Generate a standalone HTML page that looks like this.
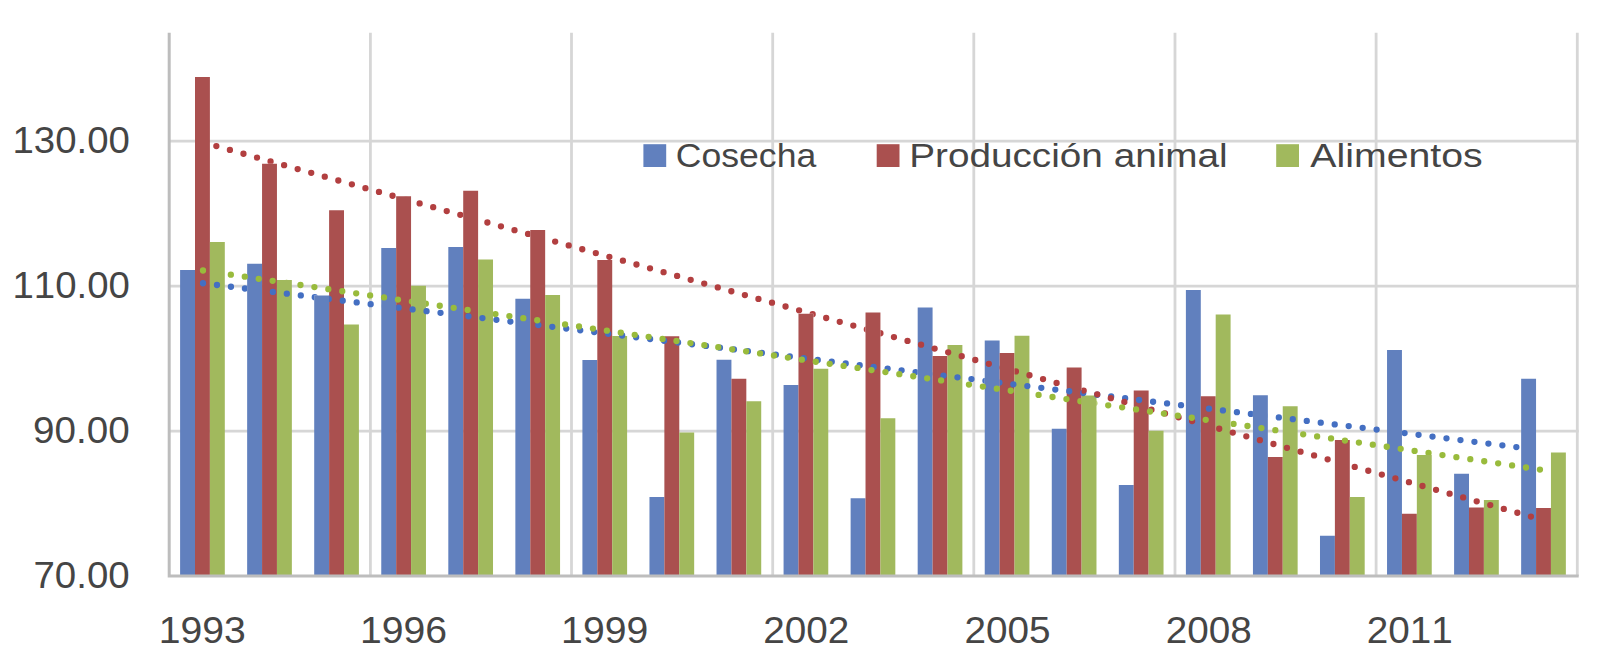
<!DOCTYPE html>
<html lang="es"><head><meta charset="utf-8"><title>Cosecha, Producción animal, Alimentos</title>
<style>html,body{margin:0;padding:0;background:#fff;overflow:hidden}svg{display:block}text{font-family:"Liberation Sans",sans-serif;font-size:36.3px;fill:#454545;font-kerning:none}</style></head><body>
<svg width="1600" height="667" viewBox="0 0 1600 667">
<rect width="1600" height="667" fill="#fff"/>
<g stroke="#d6d6d6" stroke-width="2.8" fill="none">
<path d="M169.2 141.2H1578.7"/>
<path d="M169.2 286.1H1578.7"/>
<path d="M169.2 431.05H1578.7"/>
<path d="M370.4 32.7V576.0"/>
<path d="M571.5 32.7V576.0"/>
<path d="M772.7 32.7V576.0"/>
<path d="M973.8 32.7V576.0"/>
<path d="M1175.0 32.7V576.0"/>
<path d="M1376.1 32.7V576.0"/>
<path d="M1577.3 32.7V576.0"/>
</g>
<g fill="#6180be">
<rect x="180.10" y="270" width="14.9" height="305.00"/>
<rect x="247.15" y="263.75" width="14.9" height="311.25"/>
<rect x="314.20" y="295.5" width="14.9" height="279.50"/>
<rect x="381.26" y="248" width="14.9" height="327.00"/>
<rect x="448.31" y="247" width="14.9" height="328.00"/>
<rect x="515.36" y="298.75" width="14.9" height="276.25"/>
<rect x="582.41" y="360" width="14.9" height="215.00"/>
<rect x="649.47" y="497" width="14.9" height="78.00"/>
<rect x="716.52" y="359.75" width="14.9" height="215.25"/>
<rect x="783.57" y="385" width="14.9" height="190.00"/>
<rect x="850.62" y="498.25" width="14.9" height="76.75"/>
<rect x="917.68" y="307.5" width="14.9" height="267.50"/>
<rect x="984.73" y="340.5" width="14.9" height="234.50"/>
<rect x="1051.78" y="428.75" width="14.9" height="146.25"/>
<rect x="1118.83" y="485" width="14.9" height="90.00"/>
<rect x="1185.89" y="290" width="14.9" height="285.00"/>
<rect x="1252.94" y="395.25" width="14.9" height="179.75"/>
<rect x="1319.99" y="535.75" width="14.9" height="39.25"/>
<rect x="1387.04" y="350" width="14.9" height="225.00"/>
<rect x="1454.10" y="473.75" width="14.9" height="101.25"/>
<rect x="1521.15" y="378.75" width="14.9" height="196.25"/>
</g>
<g fill="#aa504f">
<rect x="195.00" y="77" width="14.9" height="498.00"/>
<rect x="262.05" y="163.75" width="14.9" height="411.25"/>
<rect x="329.10" y="210.25" width="14.9" height="364.75"/>
<rect x="396.16" y="196.25" width="14.9" height="378.75"/>
<rect x="463.21" y="190.75" width="14.9" height="384.25"/>
<rect x="530.26" y="230" width="14.9" height="345.00"/>
<rect x="597.31" y="260" width="14.9" height="315.00"/>
<rect x="664.37" y="336.25" width="14.9" height="238.75"/>
<rect x="731.42" y="378.75" width="14.9" height="196.25"/>
<rect x="798.47" y="313.75" width="14.9" height="261.25"/>
<rect x="865.52" y="312.5" width="14.9" height="262.50"/>
<rect x="932.58" y="356" width="14.9" height="219.00"/>
<rect x="999.63" y="353" width="14.9" height="222.00"/>
<rect x="1066.68" y="367.5" width="14.9" height="207.50"/>
<rect x="1133.73" y="390.5" width="14.9" height="184.50"/>
<rect x="1200.79" y="396.25" width="14.9" height="178.75"/>
<rect x="1267.84" y="457" width="14.9" height="118.00"/>
<rect x="1334.89" y="440" width="14.9" height="135.00"/>
<rect x="1401.94" y="513.75" width="14.9" height="61.25"/>
<rect x="1469.00" y="507.5" width="14.9" height="67.50"/>
<rect x="1536.05" y="508" width="14.9" height="67.00"/>
</g>
<g fill="#a1b95d">
<rect x="209.90" y="242" width="14.9" height="333.00"/>
<rect x="276.95" y="280" width="14.9" height="295.00"/>
<rect x="344.00" y="324.5" width="14.9" height="250.50"/>
<rect x="411.06" y="285.75" width="14.9" height="289.25"/>
<rect x="478.11" y="259.5" width="14.9" height="315.50"/>
<rect x="545.16" y="295" width="14.9" height="280.00"/>
<rect x="612.21" y="336" width="14.9" height="239.00"/>
<rect x="679.27" y="432.5" width="14.9" height="142.50"/>
<rect x="746.32" y="401.25" width="14.9" height="173.75"/>
<rect x="813.37" y="368.75" width="14.9" height="206.25"/>
<rect x="880.42" y="418.25" width="14.9" height="156.75"/>
<rect x="947.48" y="345" width="14.9" height="230.00"/>
<rect x="1014.53" y="335.75" width="14.9" height="239.25"/>
<rect x="1081.58" y="395.5" width="14.9" height="179.50"/>
<rect x="1148.63" y="430.75" width="14.9" height="144.25"/>
<rect x="1215.69" y="314.5" width="14.9" height="260.50"/>
<rect x="1282.74" y="406.25" width="14.9" height="168.75"/>
<rect x="1349.79" y="497" width="14.9" height="78.00"/>
<rect x="1416.84" y="455" width="14.9" height="120.00"/>
<rect x="1483.90" y="500" width="14.9" height="75.00"/>
<rect x="1550.95" y="452.5" width="14.9" height="122.50"/>
</g>
<path d="M169.2 32.7V577.5M167.7 576.0H1578.7" stroke="#bdbdbd" stroke-width="3" fill="none"/>
<clipPath id="c0"><path clip-rule="evenodd" d="M0 0H1600V667H0ZM180.10 270h14.9V575h-14.9ZM247.15 263.75h14.9V575h-14.9ZM314.20 295.5h14.9V575h-14.9ZM381.26 248h14.9V575h-14.9ZM448.31 247h14.9V575h-14.9ZM515.36 298.75h14.9V575h-14.9ZM582.41 360h14.9V575h-14.9ZM649.47 497h14.9V575h-14.9ZM716.52 359.75h14.9V575h-14.9ZM783.57 385h14.9V575h-14.9ZM850.62 498.25h14.9V575h-14.9ZM917.68 307.5h14.9V575h-14.9ZM984.73 340.5h14.9V575h-14.9ZM1051.78 428.75h14.9V575h-14.9ZM1118.83 485h14.9V575h-14.9ZM1185.89 290h14.9V575h-14.9ZM1252.94 395.25h14.9V575h-14.9ZM1319.99 535.75h14.9V575h-14.9ZM1387.04 350h14.9V575h-14.9ZM1454.10 473.75h14.9V575h-14.9ZM1521.15 378.75h14.9V575h-14.9Z"/></clipPath>
<path clip-path="url(#c0)" d="M203.00 283.25L1530.34 448.77" stroke="#446fc2" stroke-width="6.3" stroke-linecap="round" stroke-dasharray="0 14.080" fill="none"/>
<clipPath id="c1"><path clip-rule="evenodd" d="M0 0H1600V667H0ZM195.00 77h14.9V575h-14.9ZM262.05 163.75h14.9V575h-14.9ZM329.10 210.25h14.9V575h-14.9ZM396.16 196.25h14.9V575h-14.9ZM463.21 190.75h14.9V575h-14.9ZM530.26 230h14.9V575h-14.9ZM597.31 260h14.9V575h-14.9ZM664.37 336.25h14.9V575h-14.9ZM731.42 378.75h14.9V575h-14.9ZM798.47 313.75h14.9V575h-14.9ZM865.52 312.5h14.9V575h-14.9ZM932.58 356h14.9V575h-14.9ZM999.63 353h14.9V575h-14.9ZM1066.68 367.5h14.9V575h-14.9ZM1133.73 390.5h14.9V575h-14.9ZM1200.79 396.25h14.9V575h-14.9ZM1267.84 457h14.9V575h-14.9ZM1334.89 440h14.9V575h-14.9ZM1401.94 513.75h14.9V575h-14.9ZM1469.00 507.5h14.9V575h-14.9ZM1536.05 508h14.9V575h-14.9Z"/></clipPath>
<path clip-path="url(#c1)" d="M202.80 142.30L1530.93 516.57" stroke="#b23f40" stroke-width="6.3" stroke-linecap="round" stroke-dasharray="0 14.080" fill="none"/>
<clipPath id="c2"><path clip-rule="evenodd" d="M0 0H1600V667H0ZM209.90 242h14.9V575h-14.9ZM276.95 280h14.9V575h-14.9ZM344.00 324.5h14.9V575h-14.9ZM411.06 285.75h14.9V575h-14.9ZM478.11 259.5h14.9V575h-14.9ZM545.16 295h14.9V575h-14.9ZM612.21 336h14.9V575h-14.9ZM679.27 432.5h14.9V575h-14.9ZM746.32 401.25h14.9V575h-14.9ZM813.37 368.75h14.9V575h-14.9ZM880.42 418.25h14.9V575h-14.9ZM947.48 345h14.9V575h-14.9ZM1014.53 335.75h14.9V575h-14.9ZM1081.58 395.5h14.9V575h-14.9ZM1148.63 430.75h14.9V575h-14.9ZM1215.69 314.5h14.9V575h-14.9ZM1282.74 406.25h14.9V575h-14.9ZM1349.79 497h14.9V575h-14.9ZM1416.84 455h14.9V575h-14.9ZM1483.90 500h14.9V575h-14.9ZM1550.95 452.5h14.9V575h-14.9Z"/></clipPath>
<path clip-path="url(#c2)" d="M203.00 270.50L1539.96 469.57" stroke="#99bb3c" stroke-width="6.3" stroke-linecap="round" stroke-dasharray="0 14.080" fill="none"/>
<rect x="643.4" y="144.2" width="22.8" height="22.8" fill="#6180be"/>
<rect x="876.7" y="144.2" width="22.8" height="22.8" fill="#aa504f"/>
<rect x="1276.2" y="144.2" width="22.8" height="22.8" fill="#a1b95d"/>
<text transform="translate(675.84 166.8) scale(0.9801 0.94)">Cosecha</text>
<text transform="translate(909.20 166.8) scale(1.0669 0.94)">Producción animal</text>
<text transform="translate(1310.30 166.8) scale(1.0823 0.94)">Alimentos</text>
<text transform="translate(12.43 153.1) scale(1.0579 1)">130.00</text>
<text transform="translate(12.43 298.1) scale(1.0579 1)">110.00</text>
<text transform="translate(33.07 443.1) scale(1.0636 1)">90.00</text>
<text transform="translate(33.48 588.1) scale(1.0591 1)">70.00</text>
<text transform="translate(158.79 643.1) scale(1.0789 1)">1993</text>
<text transform="translate(359.95 643.1) scale(1.0789 1)">1996</text>
<text transform="translate(561.10 643.1) scale(1.0789 1)">1999</text>
<text transform="translate(763.37 643.1) scale(1.0649 1)">2002</text>
<text transform="translate(964.52 643.1) scale(1.0649 1)">2005</text>
<text transform="translate(1165.68 643.1) scale(1.0649 1)">2008</text>
<text transform="translate(1366.84 643.1) scale(1.0649 1)">2011</text>
</svg></body></html>
